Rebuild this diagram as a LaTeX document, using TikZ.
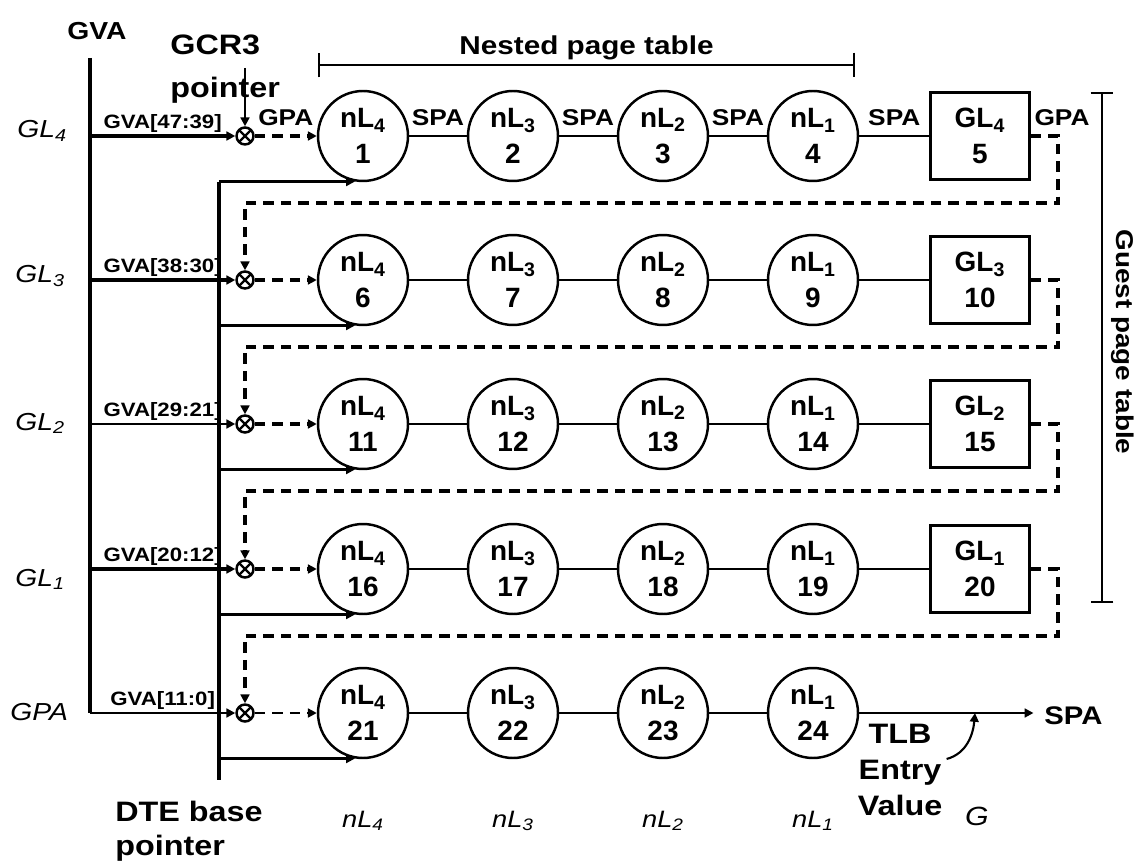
\documentclass[tikz,border=0pt]{standalone}
\usepackage{fontspec}
\setmainfont{Liberation Sans}[FakeStretch=1.15]
\newfontfamily\plainsans{Liberation Sans}
\usetikzlibrary{arrows.meta,calc,positioning}
\newcommand{\fs}[2]{\fontsize{#1}{#2}\selectfont}

\begin{document}
\begin{tikzpicture}[x=0.02cm,y=-0.02cm,>={Triangle[length=5pt,width=5pt]},
  walk/.style={circle,draw,line width=1.4pt,minimum size=1.8cm,inner sep=0pt,align=center,font=\plainsans\fs{15.9}{20.5}\bfseries},
  gpt/.style={rectangle,draw,line width=1.4pt,minimum width=1.98cm,minimum height=1.74cm,inner sep=0pt,align=center,font=\plainsans\fs{15.9}{20.5}\bfseries},
  mux/.style={circle,draw,line width=1.4pt,minimum size=0.34cm,inner sep=0pt,
    path picture={\draw[line width=1.4pt] (path picture bounding box.north west)--(path picture bounding box.south east)
      (path picture bounding box.north east)--(path picture bounding box.south west);}},
  tag/.style={font=\fs{13}{15}\bfseries,inner sep=0pt},
  small/.style={font=\fs{11}{12}\bfseries,inner sep=0pt},
  big/.style={font=\fs{16}{24}\bfseries,inner sep=0pt,align=left},
  lvl/.style={font=\fs{14}{16}\itshape,inner sep=0pt},
  bus/.style={line width=1.8pt},
  link/.style={line width=1.2pt},
  hop/.style={line width=2pt,dash pattern=on 6pt off 4pt}]
  \useasboundingbox (0,0) rectangle (1139,861);

  % guest virtual address bus
  \node[tag,font=\fs{14}{16}\bfseries] (gva) at (97,31) {GVA};
  \coordinate (gva top) at (90,58);
  \coordinate (gva bot) at (90,713);
  \draw[bus] (gva top) -- (gva bot);

  % one row per guest level
  \foreach \r/\y/\bits/\w in {1/136/47:39/1.8pt,2/280/38:30/1.8pt,3/424/29:21/1.2pt,4/569/20:12/1.8pt,5/713/11:0/1.2pt}{
    \node[mux] (x\r) at (245,\y) {};
    \draw[line width=\w,->] (gva top |- x\r) -- (x\r)
      node[small,midway,anchor=base,yshift=4.5pt] {GVA[\bits]};
    \foreach \k/\xx/\lv in {1/363/4,2/513/3,3/663/2,4/813/1}{
      \pgfmathtruncatemacro{\n}{5*\r-5+\k}
      \node[walk] (w\n) at (\xx,\y) {nL\textsubscript{\lv}\\\n};
    }
  }
  \foreach \r/\y in {1/136,2/280,3/424,4/569}{
    \pgfmathtruncatemacro{\n}{5*\r}
    \pgfmathtruncatemacro{\lv}{5-\r}
    \node[gpt] (w\n) at (980,\y) {GL\textsubscript{\lv}\\\n};
  }

  % row labels
  \node[lvl,anchor=base west] (l1) at (17,138) {GL\textsubscript{4}};
  \node[lvl,anchor=base west] (l2) at (15,283) {GL\textsubscript{3}};
  \node[lvl,anchor=base west] (l3) at (15,430) {GL\textsubscript{2}};
  \node[lvl,anchor=base west] (l4) at (15,586) {GL\textsubscript{1}};
  \node[lvl,anchor=base west] (l5) at (10,720) {GPA};

  % nested walk links
  \foreach \n in {1,2,3,4}{
    \pgfmathtruncatemacro{\m}{\n+1}
    \draw[link] (w\n) -- (w\m) node[tag,midway,anchor=base,yshift=6pt] {SPA};
  }
  \foreach \n in {6,7,8,9,11,12,13,14,16,17,18,19,21,22,23}{
    \pgfmathtruncatemacro{\m}{\n+1}
    \draw[link] (w\n) -- (w\m);
  }
  \draw[hop,->] (x1) -- (w1) node[tag,midway,anchor=base,yshift=6pt] {GPA};
  \foreach \r in {2,3,4}{
    \pgfmathtruncatemacro{\n}{5*\r-4}
    \draw[hop,->] (x\r) -- (w\n);
  }
  \draw[hop,line width=1.3pt,->] (x5) -- (w21);
  \node[tag,anchor=base] (gpa out) at (1062,126) {GPA};

  % guest entry feeds the next level
  \foreach \r/\y in {1/136,2/280,3/424,4/569}{
    \pgfmathtruncatemacro{\n}{5*\r}
    \pgfmathtruncatemacro{\s}{\r+1}
    \coordinate (turn\r) at (1058,\y+67);
    \draw[hop,->] (w\n.east) -| (turn\r) -| (x\s.north);
  }

  % DTE base pointer
  \coordinate (dte) at (219,780);
  \draw[bus] (dte |- w1.-100) -- (dte);
  \foreach \n in {1,6,11,16,21}
    \draw[bus,->] (dte |- w\n.-100) -- (w\n.-100);
  \node[big,anchor=north west,font=\fs{16}{19}\bfseries] (dte lab) at (115,801) {DTE base\\pointer};

  % GCR3
  \node[big,anchor=north west] (gcr) at (170,35) {GCR3\\pointer};
  \coordinate (gcr in) at (245,68);
  \draw[line width=1.6pt,->] (gcr in) -- (x1.north);

  % brackets
  \coordinate (npt l) at (318,65);
  \coordinate (npt r) at (855,65);
  \draw[line width=1.4pt,{Bar[width=14pt]}-{Bar[width=14pt]}] (npt l) -- (npt r)
    node[tag,midway,anchor=base,yshift=5.7pt,font=\fs{14.7}{17}\bfseries] {Nested page table};
  \coordinate (gpt t) at (1102,92);
  \coordinate (gpt b) at (1102,603);
  \draw[line width=1.4pt,{Bar[width=13pt]}-{Bar[width=13pt]}] (gpt t) -- (gpt b);
  \node[tag,rotate=-90,font=\fs{13.8}{16}\bfseries] (gpt lab) at (1123,342) {Guest page table};

  % final translation
  \node[tag,anchor=west,font=\fs{14.5}{16}\bfseries] (spa) at (1044,716) {SPA};
  \draw[link,->,shorten >=6pt] (w24) -- (w24 -| spa.west);
  \coordinate (tap) at (975,713);
  \node[big,align=center,font=\fs{16}{20.4}\bfseries] (tlb) at (900,770) {TLB\\Entry\\Value};
  \draw[link,->] ($(tlb.east)+(4,-11)$) to[out=15,in=-95] (tap);

  % column labels
  \coordinate (foot) at (0,827);
  \foreach \n/\lv in {21/4,22/3,23/2,24/1}
    \node[lvl,anchor=base,font=\fs{13.5}{16}\itshape] at (w\n |- foot) {nL\textsubscript{\lv}};
  \node[lvl,anchor=base,font=\fs{15}{16}\itshape] (g) at (977,825) {G};
\end{tikzpicture}
\end{document}
